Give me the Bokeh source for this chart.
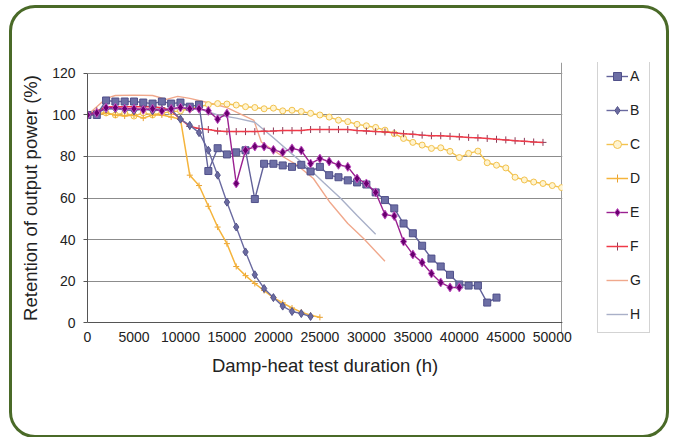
from bokeh.plotting import figure
from bokeh.models import Range1d, FixedTicker, Legend, LegendItem, Grid
from bokeh.layouts import row
from bokeh.embed import file_html
from bokeh.resources import INLINE

# ---- data ----
a_x = [i * 1000 for i in range(45)]
a_y = [100, 100, 107, 106.5, 106.5, 106.5, 106, 105.5, 106.5, 105.5, 106, 104, 105, 73, 84,
       81, 82, 83, 59.5, 76.5, 76.5, 75.7, 75, 76, 72.8, 75, 71, 70, 68.5, 67.5,
       66.5, 62.7, 59, 55, 47.7, 43, 37, 30.8, 27, 23, 18.3, 17.8, 17.8, 9.6, 12]

b_x = [i * 1000 for i in range(25)]
b_y = [100, 101, 103, 103, 102.5, 102, 103, 102, 102.5, 102.6, 98, 95, 91.5, 83, 71,
       58, 46, 34, 23, 16.4, 12, 7.9, 5.3, 4.3, 2.9]

c_x = [i * 1000 for i in range(52)]
c_y = [100, 101, 101, 100, 101, 99.5, 101, 100, 101, 101.5, 102, 103, 104, 105, 105.5,
       105.3, 104.8, 104, 103.6, 103, 103.3, 102, 102.3, 101.7, 100.8, 100, 99, 97.5, 96.8, 95.5,
       94.8, 94, 92.7, 91, 88.7, 86.8, 85.5, 83.9, 84.2, 82.5, 79.5, 81.5, 82.6, 77, 75.8,
       74.5, 70, 68.7, 67.7, 67, 66, 65]

d_x = [i * 1000 for i in range(26)]
d_y = [100, 100, 101, 100, 99.5, 100, 98.5, 100, 100, 99, 98, 71, 66, 56, 46,
       38, 27, 22.6, 18.8, 15.4, 12, 9.5, 7, 5, 3.5, 2.5]

e_x = [i * 1000 for i in range(41)]
e_y = [100, 101, 103.5, 103.5, 103, 103, 102.5, 103, 102, 103, 103.6, 103, 103, 102, 98,
       100.7, 67, 83, 84.8, 84.8, 83.2, 82, 83.9, 82.9, 76.6, 79, 77.6, 76, 75, 69.4,
       67, 62.7, 52, 51.3, 39, 32.8, 28.9, 23.6, 19.3, 16.9, 16.9]

f_x = [i * 1000 for i in range(50)]
f_y = [100, 102, 104, 104, 104, 104, 104, 104, 103.5, 102, 98, 94.5, 93.5, 93, 92.3,
       92, 92, 92, 92, 92.2, 92.3, 92.5, 92.5, 92.5, 93, 93, 93, 93, 93, 92.5,
       92.3, 92, 91.8, 91.5, 91, 90.7, 90.3, 90, 90, 89.7, 89.5, 89.2, 89, 88.7, 88.3,
       88, 87.6, 87.3, 87, 86.8]

g_x = [0, 1000, 2000, 3000, 5000, 7000, 8500, 9700, 11000, 12900, 15000, 17900, 18700,
       20000, 21000, 22600, 24300, 26100, 28000, 29700, 32000]
g_y = [100, 104, 108, 109.4, 109.6, 109.4, 107.5, 109, 108, 106, 103.6, 97.4, 87,
       83, 80, 75.7, 69.4, 57.8, 47.7, 40.5, 29.5]

h_x = [0, 1000, 2000, 4000, 6000, 8000, 10000, 12000, 14000, 16000, 18000, 20000, 21800,
       23700, 25400, 27200, 29000, 31000]
h_y = [100, 102, 103, 103, 103, 103, 103, 103, 100, 98.5, 96.5, 89, 82,
       74.7, 67.5, 60, 51.6, 42.5]

labels = ["A", "B", "C", "D", "E", "F", "G", "H"]
x_ticks = [0, 5000, 10000, 15000, 20000, 25000, 30000, 35000, 40000, 45000, 50000]
y_ticks = [0, 20, 40, 60, 80, 100, 120]
x_max = 51000
y_max = 120

FONT = "Liberation Sans"

# series styles: (line color, marker, marker size, marker line, marker fill)
styles = {
    "A": ("#62629a", "square", 7, "#50508a", "#6d6fa5"),
    "B": ("#6a6aa0", "diamond", 8, "#55558a", "#6a6aa0"),
    "C": ("#f2c24e", "circle", 6, "#f2c24e", "#fff4d0"),
    "D": ("#f5b43c", "cross", 6, "#e8a030", None),
    "E": ("#9a2090", "diamond", 9, "#c050c0", "#6a0070"),
    "F": ("#f03a48", "cross", 7, "#8a3a58", None),
    "G": ("#f0a88c", None, 0, None, None),
    "H": ("#a9b0c8", None, 0, None, None),
}
data = {"A": (a_x, a_y), "B": (b_x, b_y), "C": (c_x, c_y), "D": (d_x, d_y),
        "E": (e_x, e_y), "F": (f_x, f_y), "G": (g_x, g_y), "H": (h_x, h_y)}

# frame is a little taller than the 0..120 box so the companion legend (aligned to it) fits
p = figure(width=560, height=427, output_backend="svg", toolbar_location=None,
           x_range=Range1d(0, 51100), y_range=Range1d(-5.3, 125.3),
           min_border_left=75, min_border_right=10, min_border_top=54, min_border_bottom=102)
p.background_fill_color = "white"
p.border_fill_alpha = 0
p.outline_line_color = None

p.xgrid.visible = False
p.ygrid.grid_line_color = "#8c8c8c"
p.ygrid.grid_line_width = 1
p.ygrid.bounds = (0, x_max)
edge = Grid(dimension=0, ticker=FixedTicker(ticks=[x_max]), bounds=(0, y_max),
            grid_line_color="#9a9a9a", grid_line_width=1)
base = Grid(dimension=1, ticker=FixedTicker(ticks=[0]), bounds=(0, x_max),
            grid_line_color="#555555", grid_line_width=1)
p.add_layout(edge)
p.add_layout(base)

p.xaxis.ticker = FixedTicker(ticks=x_ticks)
p.yaxis.ticker = FixedTicker(ticks=y_ticks)
p.yaxis.bounds = (0, y_max)
p.xaxis.axis_line_color = None
p.xaxis.major_tick_line_color = None
p.xaxis.minor_tick_line_color = None
p.yaxis.minor_tick_line_color = None
p.xaxis.major_tick_in = 0
p.xaxis.major_tick_out = 0
p.yaxis.major_tick_in = 0
p.yaxis.major_tick_out = 4
p.yaxis.axis_line_color = "#555555"
p.yaxis.major_tick_line_color = "#555555"
for ax in (p.xaxis, p.yaxis):
    ax.major_label_text_font = FONT
    ax.major_label_text_font_size = "14px"
    ax.major_label_text_color = "#222222"
    ax.axis_label_text_font = FONT
    ax.axis_label_text_font_size = "18.5px"
    ax.axis_label_text_font_style = "normal"
    ax.axis_label_text_color = "#222222"
p.xaxis.axis_label = "Damp-heat test duration (h)"
p.yaxis.axis_label = "Retention of output power (%)"
p.xaxis.major_label_standoff = -2
p.xaxis.axis_label_standoff = 10
p.yaxis.major_label_standoff = 8
p.yaxis.axis_label_standoff = 8

# drawing order (back to front)
order = ["G", "H", "C", "D", "F", "B", "A", "E"]


def draw(fig, k):
    lc, mk, ms, mlc, mfc = styles[k]
    xs, ys = data[k]
    rs = []
    if k in ("D", "F"):
        rs.append(fig.scatter(xs, ys, marker=mk, size=ms, line_color=mlc, line_width=1))
        rs.append(fig.line(xs, ys, line_color=lc, line_width=1.5))
    else:
        rs.append(fig.line(xs, ys, line_color=lc, line_width=1.4))
        if mk:
            rs.append(fig.scatter(xs, ys, marker=mk, size=ms, line_color=mlc,
                                  fill_color=mfc, line_width=1))
    return rs


for k in order:
    draw(p, k)

# legend lives in a small companion figure (its renderers fall outside that figure's ranges)
q = figure(width=94, height=427, output_backend="svg", toolbar_location=None,
           x_range=Range1d(-2, -1), y_range=Range1d(-2, -1),
           x_axis_type=None, y_axis_type=None,
           min_border_left=0, min_border_right=0, min_border_top=0, min_border_bottom=0)
q.outline_line_color = None
q.background_fill_alpha = 0
q.border_fill_alpha = 0

items = [LegendItem(label=k, renderers=draw(q, k)) for k in labels]

leg = Legend(items=items, location=(25, 0))
leg.border_line_color = "#a8a8a8"
leg.border_line_width = 1
leg.background_fill_color = "white"
leg.background_fill_alpha = 1
leg.label_text_font = FONT
leg.label_text_font_size = "14px"
leg.label_text_color = "#222222"
leg.glyph_width = 22
leg.glyph_height = 20
leg.label_height = 20
leg.label_width = 10
leg.label_standoff = 2
leg.spacing = 14
leg.padding = 8
leg.margin = 0
q.add_layout(leg, "center")

layout = row(p, q, spacing=0)
layout.styles = {"margin-left": "9px", "margin-top": "5px",
                 "border": "3px solid #4a6a28", "border-radius": "26px"}

open("out.html", "w").write(file_html(layout, INLINE))
